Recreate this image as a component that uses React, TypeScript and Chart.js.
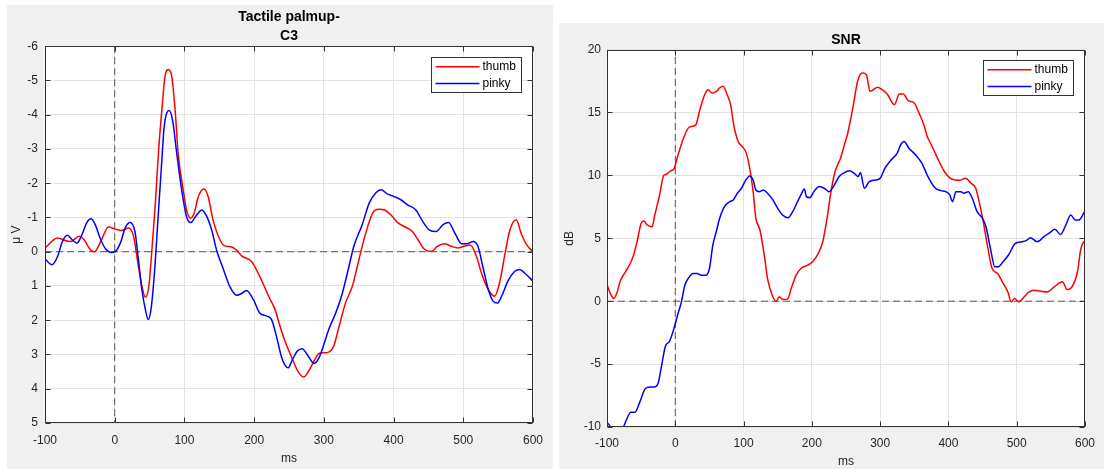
import React, { useEffect, useRef } from 'react';
import { Chart, registerables } from 'chart.js';

Chart.register(...registerables);

// ---------------- shared labels ----------------
const seriesNames = ['thumb', 'pinky'];
const seriesColors = ['#ff0000', '#0000ff'];
const xLabel = 'ms';
const xMin = -100;
const xMax = 600;
const xStep = 100;

// ---------------- left panel: ERP ----------------
const erpTitle = ['Tactile palmup-', 'C3'];
const erpYLabel = 'μ V';
const erpYMin = -6;
const erpYMax = 5;
const erpYStep = 1;

const erpThumbMs = [-100, -82, -70, -63, -51, -44, -35, -29, -20, -9, 1, 10, 20, 27, 34, 39, 44, 49, 53, 58, 63, 68, 72, 77, 82, 87, 91, 99, 103, 109, 114, 120, 128, 134, 141, 151, 158, 168, 175, 182, 196, 208, 222, 230, 237, 244, 250, 257, 264, 271, 278, 286, 293, 300, 307, 314, 322, 331, 341, 348, 355, 363, 370, 379, 387, 396, 406, 415, 427, 435, 444, 454, 463, 473, 483, 492, 501, 510, 519, 526, 536, 545, 552, 560, 567, 576, 583, 591, 600];
const erpThumbUv = [-0.11, -0.4, -0.32, -0.3, -0.45, -0.35, -0.06, 0, -0.3, -0.72, -0.66, -0.62, -0.69, -0.45, 0.43, 1.0, 1.33, 1.0, 0.04, -1.32, -2.97, -4.23, -5.1, -5.32, -5.1, -4.04, -2.87, -1.71, -1.22, -0.98, -1.13, -1.61, -1.83, -1.61, -0.93, -0.35, -0.17, -0.14, -0.04, 0.12, 0.28, 0.72, 1.35, 1.69, 2.17, 2.6, 2.9, 3.24, 3.53, 3.66, 3.49, 3.19, 2.97, 2.95, 2.93, 2.76, 2.17, 1.5, 1.0, 0.43, -0.16, -0.74, -1.13, -1.24, -1.22, -1.08, -0.85, -0.74, -0.59, -0.35, -0.08, -0.01, -0.16, -0.23, -0.16, -0.11, -0.16, -0.2, 0.14, 0.62, 1.11, 1.3, 0.91, 0.04, -0.64, -0.93, -0.54, -0.2, 0.0];

const erpPinkyMs = [-100, -90, -82, -75, -68, -61, -54, -47, -40, -34, -28, -20, -13, -5, 1, 8, 15, 22, 29, 34, 39, 44, 48, 52, 57, 62, 67, 71, 78, 83, 89, 96, 103, 109, 116, 125, 132, 139, 146, 156, 165, 175, 182, 189, 199, 208, 218, 225, 232, 239, 244, 249, 254, 262, 269, 276, 286, 293, 300, 307, 317, 326, 336, 343, 355, 365, 375, 382, 391, 401, 411, 420, 432, 442, 451, 461, 471, 479, 488, 498, 505, 514, 521, 528, 536, 543, 549, 555, 564, 574, 581, 588, 600];
const erpPinkyUv = [0.21, 0.38, 0.14, -0.3, -0.48, -0.35, -0.25, -0.5, -0.85, -0.96, -0.79, -0.35, -0.08, 0.02, -0.01, -0.25, -0.69, -0.85, -0.59, 0.23, 1.11, 1.69, 1.98, 1.69, 0.62, -0.93, -2.49, -3.65, -4.12, -3.84, -2.87, -1.81, -1.03, -0.85, -1.03, -1.22, -1.03, -0.64, -0.06, 0.52, 1.01, 1.27, 1.22, 1.13, 1.4, 1.79, 1.88, 1.98, 2.47, 3.05, 3.3, 3.39, 3.19, 2.9, 2.83, 3.0, 3.26, 3.1, 2.71, 2.27, 1.79, 1.25, 0.43, -0.16, -0.79, -1.42, -1.73, -1.81, -1.69, -1.61, -1.51, -1.37, -1.22, -0.88, -0.64, -0.59, -0.79, -0.85, -0.54, -0.23, -0.23, -0.3, -0.16, 0.43, 1.11, 1.45, 1.5, 1.3, 0.86, 0.57, 0.52, 0.62, 0.86];

// ---------------- right panel: SNR ----------------
const snrTitle = ['SNR'];
const snrYLabel = 'dB';
const snrYMin = -10;
const snrYMax = 20;
const snrYStep = 5;

const snrThumbMs = [-100, -95, -90, -85, -81, -73, -66, -61, -56, -50, -46, -41, -34, -30, -23, -17, -13, -7, -2, 4, 12, 19, 24, 30, 36, 43, 48, 54, 60, 65, 70, 76, 81, 86, 92, 98, 104, 109, 114, 118, 124, 131, 135, 142, 148, 152, 158, 165, 169, 177, 184, 194, 201, 208, 216, 223, 228, 234, 242, 248, 252, 260, 267, 274, 280, 285, 290, 296, 303, 311, 318, 321, 328, 334, 341, 350, 357, 364, 369, 375, 384, 394, 403, 416, 425, 433, 440, 445, 451, 457, 464, 472, 479, 487, 492, 497, 503, 511, 518, 525, 535, 545, 555, 567, 574, 581, 589, 594, 600];
const snrThumbDb = [1.33, 0.61, 0.21, 0.74, 1.54, 2.34, 3.0, 3.67, 4.73, 6.19, 6.37, 6.06, 5.92, 6.85, 8.45, 9.99, 10.09, 10.36, 10.52, 11.63, 12.96, 13.76, 13.89, 14.02, 15.22, 16.41, 16.81, 16.55, 16.68, 16.95, 17.08, 16.41, 15.62, 13.89, 12.7, 12.3, 11.77, 10.57, 8.71, 6.59, 5.66, 3.4, 1.81, 0.48, 0.0, 0.35, 0.13, 0.21, 0.88, 2.07, 2.6, 2.87, 3.13, 3.67, 4.73, 6.85, 8.71, 10.31, 11.37, 12.5, 13.23, 15.35, 17.48, 18.14, 18.0, 16.68, 16.81, 17.0, 16.81, 16.41, 15.75, 15.62, 16.47, 16.47, 15.94, 15.75, 14.95, 14.02, 13.09, 12.43, 11.37, 10.31, 9.77, 9.61, 9.77, 9.38, 8.98, 7.91, 6.32, 4.46, 2.6, 2.2, 1.54, 0.74, -0.05, 0.21, -0.05, 0.35, 0.74, 0.88, 0.8, 0.74, 1.14, 1.54, 0.93, 1.14, 2.34, 4.2, 4.86];

const snrPinkyMs = [-100, -95, -90, -83, -76, -71, -65, -59, -52, -44, -37, -31, -25, -20, -14, -9, -2, 4, 9, 14, 19, 26, 32, 38, 45, 50, 55, 60, 65, 72, 80, 85, 91, 97, 102, 109, 114, 118, 123, 129, 135, 143, 150, 157, 165, 172, 179, 184, 189, 192, 197, 203, 211, 218, 225, 233, 240, 247, 255, 262, 268, 271, 277, 284, 294, 300, 307, 316, 325, 330, 335, 342, 352, 361, 370, 381, 389, 396, 402, 406, 411, 418, 423, 429, 435, 442, 450, 455, 462, 468, 473, 480, 488, 498, 508, 514, 520, 530, 540, 550, 556, 564, 572, 579, 586, 591, 600];
const snrPinkyDb = [-9.61, -9.96, -10.05, -10.2, -10.0, -9.35, -8.82, -8.82, -8.02, -6.96, -6.83, -6.83, -6.51, -5.1, -3.51, -3.24, -2.18, -0.98, -0.05, 1.27, 1.81, 2.2, 2.2, 2.07, 2.07, 2.6, 4.46, 5.52, 6.59, 7.52, 7.91, 8.05, 8.58, 8.98, 9.51, 9.96, 9.64, 8.84, 8.71, 8.84, 8.58, 8.05, 7.38, 6.85, 6.64, 7.12, 7.91, 8.45, 8.92, 8.31, 8.23, 8.71, 9.11, 8.98, 8.71, 9.24, 9.91, 10.2, 10.36, 10.17, 9.91, 10.23, 8.98, 9.51, 9.64, 9.77, 10.57, 11.23, 11.77, 12.43, 12.7, 12.16, 11.63, 10.97, 9.91, 8.98, 8.79, 8.71, 8.45, 7.91, 8.71, 8.71, 8.58, 8.71, 8.18, 7.12, 6.59, 5.92, 4.06, 2.74, 2.74, 3.13, 3.67, 4.6, 4.73, 4.81, 5.05, 4.73, 5.13, 5.52, 5.71, 5.31, 6.06, 6.85, 6.45, 6.45, 7.17];

// ---------------- styling ----------------
const FONT = '"Liberation Sans", Arial, Helvetica, sans-serif';
const AXIS_COLOR = '#333333';
const GRID_COLOR = '#e3e3e3';
const REF_COLOR = '#555555';

Chart.defaults.font.family = FONT;
Chart.defaults.font.size = 12;
Chart.defaults.color = '#262626';

const zip = (xs: number[], ys: number[]) => xs.map((x, i) => ({ x, y: ys[i] }));

const matlabFrame = {
  id: 'matlabFrame',
  beforeDraw(chart: any) {
    const { ctx, chartArea: ca } = chart;
    ctx.save();
    ctx.fillStyle = '#ffffff';
    ctx.fillRect(ca.left, ca.top, ca.right - ca.left, ca.bottom - ca.top);
    ctx.restore();
  },
  afterDraw(chart: any) {
    const { ctx, chartArea: ca, scales } = chart;
    const L = Math.round(ca.left) + 0.5;
    const R = Math.round(ca.right) - 0.5;
    const T = Math.round(ca.top) + 0.5;
    const B = Math.round(ca.bottom) - 0.5;
    ctx.save();
    ctx.strokeStyle = AXIS_COLOR;
    ctx.lineWidth = 1;
    ctx.beginPath();
    scales.x.ticks.forEach((t: any) => {
      const px = Math.round(scales.x.getPixelForValue(t.value)) + 0.5;
      ctx.moveTo(px, B);
      ctx.lineTo(px, B - 5);
      ctx.moveTo(px, T);
      ctx.lineTo(px, T + 5);
    });
    scales.y.ticks.forEach((t: any) => {
      const py = Math.round(scales.y.getPixelForValue(t.value)) + 0.5;
      ctx.moveTo(L, py);
      ctx.lineTo(L + 5, py);
      ctx.moveTo(R, py);
      ctx.lineTo(R - 5, py);
    });
    ctx.stroke();
    ctx.strokeRect(L, T, R - L, B - T);

    // legend box (top-right inside axes)
    const items = chart.data.datasets.filter((d: any) => d.label);
    const boxW = 90;
    const rowH = 16.6;
    const boxH = 35;
    const bx = Math.round(ca.right - 11.5 - boxW) + 0.5;
    const by = Math.round(ca.top + 10.5) + 0.5;
    ctx.fillStyle = '#ffffff';
    ctx.fillRect(bx, by, boxW, boxH);
    ctx.strokeStyle = AXIS_COLOR;
    ctx.strokeRect(bx, by, boxW, boxH);
    ctx.font = `12px ${FONT}`;
    ctx.textBaseline = 'middle';
    ctx.textAlign = 'left';
    items.forEach((d: any, i: number) => {
      const y = by + 9.3 + i * rowH;
      ctx.strokeStyle = d.borderColor;
      ctx.lineWidth = 1.5;
      ctx.beginPath();
      ctx.moveTo(bx + 4, y);
      ctx.lineTo(bx + 48, y);
      ctx.stroke();
      ctx.fillStyle = '#000000';
      ctx.fillText(d.label, bx + 51, y);
    });
    ctx.restore();
  },
};

type PanelCfg = {
  width: number;
  height: number;
  title: string[];
  titlePadTop: number;
  yLabel: string;
  yLabelPad: number;
  yMin: number;
  yMax: number;
  yStep: number;
  reverse: boolean;
  yAxisWidth: number;
  yTickPad: number;
  xAxisHeight: number;
  xTickPad: number;
  xTitlePadBottom: number;
  padRight: number;
  series: { x: number[]; y: number[] }[];
};

function MatlabPanel({ cfg }: { cfg: PanelCfg }) {
  const ref = useRef<HTMLCanvasElement>(null);
  useEffect(() => {
    if (!ref.current) return;
    const dataSets: any[] = cfg.series.map((s, i) => ({
      label: seriesNames[i],
      data: zip(s.x, s.y),
      borderColor: seriesColors[i],
      backgroundColor: seriesColors[i],
      borderWidth: 1.5,
      pointRadius: 0,
      cubicInterpolationMode: 'monotone',
      fill: false,
      order: 2 - i,
    }));
    dataSets.push({
      label: '',
      data: zip([xMin, xMax], [0, 0]),
      borderColor: REF_COLOR,
      borderWidth: 1,
      borderDash: [7, 4],
      pointRadius: 0,
      order: 5,
    });
    dataSets.push({
      label: '',
      data: zip([0, 0], [cfg.yMin, cfg.yMax]),
      borderColor: REF_COLOR,
      borderWidth: 1,
      borderDash: [7, 4],
      pointRadius: 0,
      order: 5,
    });
    const chart = new Chart(ref.current, {
      type: 'line',
      data: { datasets: dataSets },
      options: {
        responsive: false,
        animation: false,
        events: [],
        layout: { padding: { left: 0, top: 0, bottom: 0, right: cfg.padRight } },
        plugins: {
          legend: { display: false },
          tooltip: { enabled: false },
          title: {
            display: true,
            text: cfg.title,
            fullSize: false,
            color: '#000000',
            font: { size: 14, weight: 'bold', family: FONT, lineHeight: 1.4 },
            padding: { top: cfg.titlePadTop, bottom: 0 },
          },
        },
        scales: {
          x: {
            type: 'linear',
            min: xMin,
            max: xMax,
            ticks: { stepSize: xStep, padding: cfg.xTickPad, color: '#262626', font: { size: 12 } },
            grid: { color: GRID_COLOR, drawTicks: false },
            border: { display: false },
            title: {
              display: true,
              text: xLabel,
              color: '#262626',
              font: { size: 12 },
              padding: { top: 0, bottom: cfg.xTitlePadBottom },
            },
            afterFit: (s: any) => {
              s.height = cfg.xAxisHeight;
            },
          },
          y: {
            type: 'linear',
            min: cfg.yMin,
            max: cfg.yMax,
            reverse: cfg.reverse,
            ticks: { stepSize: cfg.yStep, padding: cfg.yTickPad, color: '#262626', font: { size: 12 } },
            grid: { color: GRID_COLOR, drawTicks: false },
            border: { display: false },
            title: {
              display: true,
              text: cfg.yLabel,
              color: '#262626',
              font: { size: 12 },
              padding: { top: cfg.yLabelPad, bottom: 0 },
            },
            afterFit: (s: any) => {
              s.width = cfg.yAxisWidth;
            },
          },
        },
      } as any,
      plugins: [matlabFrame],
    });
    return () => chart.destroy();
  }, [cfg]);
  return <canvas ref={ref} width={cfg.width} height={cfg.height} style={{ display: 'block', width: cfg.width, height: cfg.height }} />;
}

const erpCfg: PanelCfg = {
  width: 546,
  height: 464,
  title: erpTitle,
  titlePadTop: 2,
  yLabel: erpYLabel,
  yLabelPad: 2,
  yMin: erpYMin,
  yMax: erpYMax,
  yStep: erpYStep,
  reverse: true,
  yAxisWidth: 38,
  yTickPad: 7,
  xAxisHeight: 46,
  xTickPad: 10,
  xTitlePadBottom: 3,
  padRight: 20,
  series: [
    { x: erpThumbMs, y: erpThumbUv },
    { x: erpPinkyMs, y: erpPinkyUv },
  ],
};

const snrCfg: PanelCfg = {
  width: 545,
  height: 446,
  title: snrTitle,
  titlePadTop: 7,
  yLabel: snrYLabel,
  yLabelPad: 3,
  yMin: snrYMin,
  yMax: snrYMax,
  yStep: snrYStep,
  reverse: false,
  yAxisWidth: 48,
  yTickPad: 6,
  xAxisHeight: 42,
  xTickPad: 9,
  xTitlePadBottom: 0,
  padRight: 18,
  series: [
    { x: snrThumbMs, y: snrThumbDb },
    { x: snrPinkyMs, y: snrPinkyDb },
  ],
};

export default function App() {
  return (
    <>
      <style>{`html,body{margin:0;padding:0;background:#ffffff;}`}</style>
      <div style={{ position: 'relative', width: 1104, height: 469, overflow: 'hidden', background: '#ffffff' }}>
        <div style={{ position: 'absolute', left: 7, top: 5, width: 546, height: 464, background: '#f0f0f0' }}>
          <MatlabPanel cfg={erpCfg} />
        </div>
        <div style={{ position: 'absolute', left: 559, top: 23, width: 545, height: 446, background: '#f0f0f0' }}>
          <MatlabPanel cfg={snrCfg} />
        </div>
      </div>
    </>
  );
}
